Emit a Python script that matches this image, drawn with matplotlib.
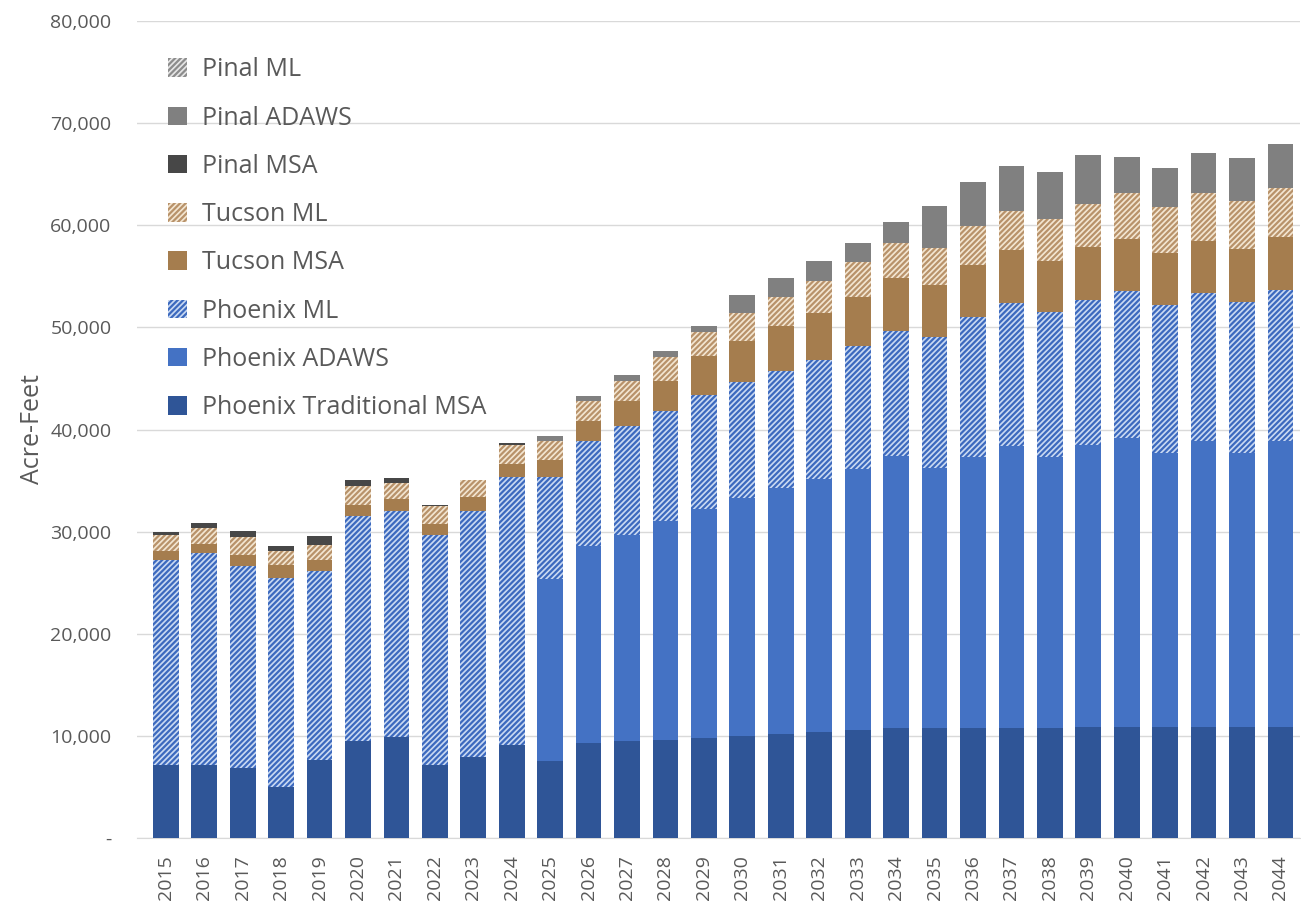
import numpy as np
import matplotlib.pyplot as plt
from matplotlib.ticker import FuncFormatter

plt.rcParams['font.family'] = ['Open Sans', 'DejaVu Sans']
plt.rcParams['hatch.linewidth'] = 1.6

years = [str(y) for y in range(2015, 2045)]

# acre-feet per year
phx_msa = [7150, 7150, 6900, 5000, 7600, 9500, 9900, 7150, 7950, 9150,
           7550, 9300, 9500, 9650, 9810, 10000, 10240, 10370, 10560, 10760,
           10760, 10760, 10760, 10760, 10890, 10890, 10890, 10890, 10890, 10890]
phx_adaws = [0, 0, 0, 0, 0, 0, 0, 0, 0, 0,
             17800, 19300, 20130, 21380, 22370, 23320, 24060, 24810, 25600, 26630,
             25460, 26530, 27610, 26600, 27550, 28300, 26830, 27940, 26830, 27940]
phx_ml = [20100, 20750, 19700, 20450, 18550, 22000, 22100, 22500, 24050, 26250,
          10000, 10250, 10700, 10760, 11210, 11370, 11470, 11670, 12060, 12290,
          12810, 13760, 14030, 14110, 14240, 14340, 14470, 14540, 14800, 14860]
tuc_msa = [900, 900, 1100, 1250, 1050, 1150, 1200, 1150, 1400, 1250,
           1650, 1950, 2440, 3000, 3810, 4010, 4330, 4530, 4790, 5150,
           5120, 5090, 5170, 5060, 5150, 5120, 5060, 5110, 5110, 5120]
tuc_ml = [1550, 1550, 1750, 1400, 1450, 1850, 1550, 1700, 1700, 1850,
          1850, 1950, 2020, 2280, 2320, 2680, 2900, 3130, 3350, 3430,
          3620, 3750, 3850, 4100, 4240, 4460, 4560, 4630, 4700, 4830]
pinal_msa = [300, 500, 650, 500, 900, 600, 550, 150, 0, 200,
             0, 0, 0, 0, 0, 0, 0, 0, 0, 0,
             0, 0, 0, 0, 0, 0, 0, 0, 0, 0]
pinal_adaws = [0, 0, 0, 0, 0, 0, 0, 0, 0, 0,
               500, 550, 560, 590, 650, 1790, 1830, 1950, 1900, 2020,
               4140, 4300, 4400, 4620, 4800, 3620, 3780, 4010, 4270, 4360]
pinal_ml = [0] * 30

series = [
    ("Phoenix Traditional MSA", phx_msa, "#2F5597", None, None),
    ("Phoenix ADAWS", phx_adaws, "#4472C4", None, None),
    ("Phoenix ML", phx_ml, "#C9D9F2", "#3C69BE", "//////"),
    ("Tucson MSA", tuc_msa, "#A57D4E", None, None),
    ("Tucson ML", tuc_ml, "#F3E6D2", "#B8926A", "//////"),
    ("Pinal MSA", pinal_msa, "#474747", None, None),
    ("Pinal ADAWS", pinal_adaws, "#808080", None, None),
    ("Pinal ML", pinal_ml, "#E6E6E6", "#8C8C8C", "//////"),
]

fig = plt.figure(figsize=(13.01, 9.11), dpi=100)
ax = fig.add_axes([0.105, 0.080, 0.894, 0.897])

x = np.arange(len(years))
bottom = np.zeros(len(years))
for name, vals, face, hatch_col, hatch in series:
    vals = np.array(vals, dtype=float)
    if hatch:
        ax.bar(x, vals, 0.67, bottom=bottom, color=face, edgecolor=hatch_col,
               hatch=hatch, linewidth=0, label=name, zorder=3)
    else:
        ax.bar(x, vals, 0.67, bottom=bottom, color=face, linewidth=0,
               label=name, zorder=3)
    bottom += vals

ax.set_xlim(-0.76, len(years) - 0.5)
ax.set_ylim(0, 80000)
ax.set_yticks(np.arange(0, 80001, 10000))
ax.yaxis.set_major_formatter(FuncFormatter(lambda v, p: "-" if v == 0 else f"{int(v):,}"))
ax.set_xticks(x)
ax.set_xticklabels(years, rotation=90)
ax.tick_params(axis='both', length=0, labelsize=14, colors='#595959', pad=12)
ax.tick_params(axis='y', pad=18)
ax.grid(axis='y', color='#D9D9D9', linewidth=1, zorder=0)
for s in ['top', 'right', 'left']:
    ax.spines[s].set_visible(False)
ax.spines['bottom'].set_color('#D9D9D9')
ax.set_ylabel("Acre-Feet", fontsize=18, color='#595959', labelpad=4)

handles, labels = ax.get_legend_handles_labels()
leg = ax.legend(handles[::-1], labels[::-1], loc='upper left', bbox_to_anchor=(0.008, 0.983),
                frameon=False, fontsize=18, handlelength=0.75, handleheight=0.75,
                labelspacing=0.93, handletextpad=0.6)
for t in leg.get_texts():
    t.set_color('#595959')

fig.savefig("out.png", dpi=100)
